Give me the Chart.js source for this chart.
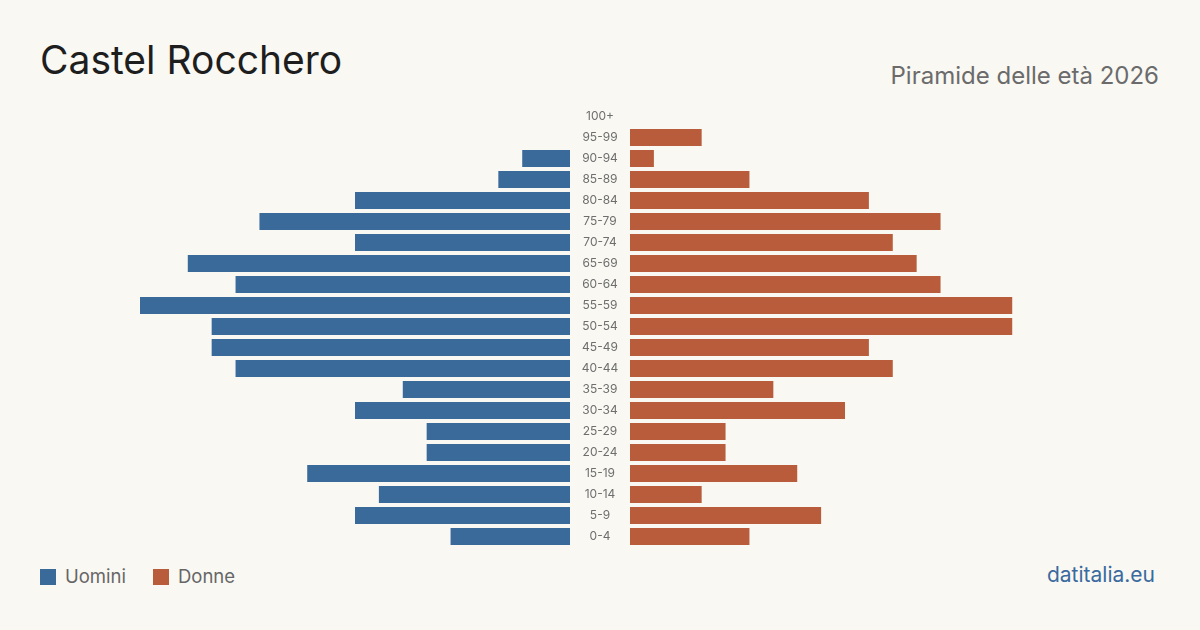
<!DOCTYPE html>
<html>
<head>
<meta charset="utf-8">
<script src="https://cdn.jsdelivr.net/npm/chart.js@4/dist/chart.umd.min.js"></script>
<style>
  html, body { margin: 0; padding: 0; background: #f9f8f3; }
  #wrap { position: relative; width: 1200px; height: 630px; background: #f9f8f3; overflow: hidden; font-family: Inter, "Liberation Sans", sans-serif; }
  #title { position: absolute; left: 40px; top: 40px; font-size: 39px; color: #1e1e1e; line-height: 1; white-space: nowrap; }
  #subtitle { position: absolute; right: 41px; top: 64px; font-size: 24px; color: #6b6b6b; line-height: 1; white-space: nowrap; }
  #brand { position: absolute; right: 45px; top: 564px; font-size: 21px; color: #3a6a9e; line-height: 1; white-space: nowrap; }
  .leg { position: absolute; top: 566px; font-size: 18.5px; color: #666; line-height: 20px; white-space: nowrap; }
  .sw { display: inline-block; width: 16px; height: 16px; vertical-align: -2px; margin-right: 9px; }
  canvas { position: absolute; }
</style>
</head>
<body>
<div id="wrap">
  <div id="title">Castel Rocchero</div>
  <div id="subtitle">Piramide delle età 2026</div>
  <canvas id="left" width="430" height="441" style="left:140px; top:106px; width:430px; height:441px;"></canvas>
  <canvas id="right" width="490" height="441" style="left:570px; top:106px; width:490px; height:441px;"></canvas>
  <div class="leg" style="left:40px;"><span class="sw" style="background:#3a6a9a"></span>Uomini</div>
  <div class="leg" style="left:153px;"><span class="sw" style="background:#b85c3b"></span>Donne</div>
  <div id="brand">datitalia.eu</div>
</div>
<script>
const ageGroups = ["100+","95-99","90-94","85-89","80-84","75-79","70-74","65-69","60-64","55-59","50-54","45-49","40-44","35-39","30-34","25-29","20-24","15-19","10-14","5-9","0-4"];
const males   = [0,0,2,3,9,13,9,16,14,18,15,15,14,7,9,6,6,11,8,9,5];
const females = [0,3,1,5,10,13,11,12,13,16,16,10,11,6,9,4,4,7,3,8,5];
const seriesNames = ["Uomini","Donne"];
const maleColor = "#3a6a9a";
const femaleColor = "#b85c3b";
const axisMax = 18;

Chart.defaults.font.family = "Inter, 'Liberation Sans', sans-serif";
Chart.defaults.animation = false;

const tickFont = { size: 12, family: "Inter, 'Liberation Sans', sans-serif" };
const mctx = document.createElement('canvas').getContext('2d');
mctx.font = "12px Inter, 'Liberation Sans', sans-serif";
let widest = 0;
ageGroups.forEach(l => { widest = Math.max(widest, mctx.measureText(l).width); });
const labelPad = 30 - widest / 2;

new Chart(document.getElementById('left'), {
  type: 'bar',
  data: { labels: ageGroups, datasets: [{ label: seriesNames[0], data: males, backgroundColor: maleColor, barThickness: 17, inflateAmount: 0, borderWidth: 0 }] },
  options: {
    indexAxis: 'y', responsive: false, devicePixelRatio: 1,
    layout: { padding: 0 },
    plugins: { legend: { display: false }, tooltip: { enabled: false } },
    scales: {
      x: { display: false, reverse: true, min: 0, max: axisMax },
      y: { display: false }
    }
  }
});

new Chart(document.getElementById('right'), {
  type: 'bar',
  data: { labels: ageGroups, datasets: [{ label: seriesNames[1], data: females, backgroundColor: femaleColor, barThickness: 17, inflateAmount: 0, borderWidth: 0 }] },
  options: {
    indexAxis: 'y', responsive: false, devicePixelRatio: 1,
    layout: { padding: 0 },
    plugins: { legend: { display: false }, tooltip: { enabled: false } },
    scales: {
      x: { display: false, min: 0, max: axisMax },
      y: {
        position: 'left',
        border: { display: false },
        grid: { display: false, drawTicks: false },
        ticks: { font: tickFont, color: '#6e6e6e', crossAlign: 'center', padding: labelPad, autoSkip: false },
        afterFit: (s) => { s.width = 60; s.paddingTop = 0; s.paddingBottom = 0; }
      }
    }
  }
});
</script>
</body>
</html>
